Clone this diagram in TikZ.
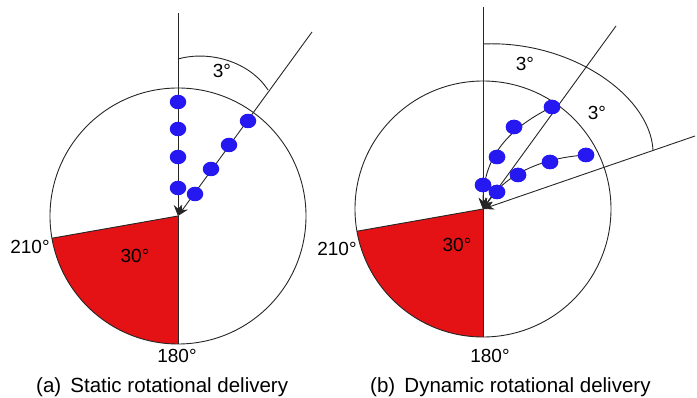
\documentclass[tikz,border=0pt]{standalone}
\usepackage{fontspec}
\setmainfont{Liberation Sans}
\usetikzlibrary{arrows.meta,shapes.geometric}
\definecolor{dotblue}{RGB}{38,24,240}
\definecolor{secred}{RGB}{228,18,20}
\begin{document}
\begin{tikzpicture}[x=1pt,y=-1pt,
 ln/.style={line width=0.9pt, draw=black!85},
 arr/.style={ln, -{Stealth[length=11pt,width=8.5pt]}},
 dot/.style={ellipse, fill=dotblue, minimum width=16.5pt, minimum height=14.5pt, inner sep=0pt},
 lab/.style={font=\fontsize{19}{19}\selectfont, inner sep=0pt},
 captxt/.style={font=\fontsize{20.5}{20.5}\selectfont, inner sep=0pt, anchor=west}]
\useasboundingbox (0,0) rectangle (697,398);
% ---------------- (a) static ----------------
\coordinate (cL) at (178,216);
\fill[secred] (cL) -- ++(90:128) arc[start angle=90,end angle=170,radius=128] -- cycle;
\draw[ln] (cL) circle[radius=128];
\draw[ln] (cL) -- ++(90:128) coordinate (botL);
\draw[ln] (cL) -- ++(170:128) coordinate (leftL);
\coordinate (topL) at (178,13);
\coordinate (diagL) at (312,32);
\draw[arr] (topL) -- (cL);
\draw[arr] (diagL) -- (cL);
\coordinate (aL1) at (178,59);
\coordinate (aL2) at (268,90);
\draw[ln] (aL1) .. controls (210,50) and (250,62) .. (aL2);
\node[dot] (v1) at (178,102) {};
\node[dot] (v2) at (178,129) {};
\node[dot] (v3) at (178,157) {};
\node[dot] (v4) at (178,188) {};
\node[dot] (g1) at (248,121) {};
\node[dot] (g2) at (229,145) {};
\node[dot] (g3) at (211,169) {};
\node[dot] (g4) at (195,194) {};
\node[lab] (l3a) at (222,71) {3°};
\node[lab] (l210a) at (30,247) {210°};
\node[lab] (l30a) at (135,256) {30°};
\node[lab] (l180a) at (177,356) {180°};
\node[captxt] (capa) at (36,387) {(a)\hspace{0.45em}Static rotational delivery};
% ---------------- (b) dynamic ----------------
\coordinate (cR) at (483,209);
\fill[secred] (cR) -- ++(90:128) arc[start angle=90,end angle=170,radius=128] -- cycle;
\draw[ln] (cR) circle[radius=128];
\draw[ln] (cR) -- ++(90:128) coordinate (botR);
\draw[ln] (cR) -- ++(170:128) coordinate (leftR);
\coordinate (topR) at (483,7);
\coordinate (d1R) at (616,26);
\coordinate (d2R) at (695,136);
\draw[arr] (topR) -- (cR);
\draw[arr] (d1R) -- (cR);
\draw[arr] (d2R) -- (cR);
\coordinate (aR1) at (483,44);
\coordinate (aR2) at (653,150);
\draw[ln] (aR1) .. controls (570,40) and (650,95) .. (aR2);
\node[dot] (p1) at (552,107) {};
\node[dot] (p2) at (514,127) {};
\node[dot] (p3) at (497,157) {};
\node[dot] (p4) at (483,185) {};
\node[dot] (q1) at (586,155) {};
\node[dot] (q2) at (550,162) {};
\node[dot] (q3) at (518,175) {};
\node[dot] (q4) at (497,192) {};
\draw[arr] (p1.center) .. controls (505,130) and (483,160) .. (cR);
\draw[arr] (q1.center) .. controls (540,158) and (505,175) .. (cR);
\foreach \n in {p1,p2,p3,p4,q1,q2,q3,q4} \fill[dotblue] (\n.center) ellipse[x radius=8.25, y radius=7.25];
\node[lab] (l3b) at (525,64) {3°};
\node[lab] (l3c) at (597,113) {3°};
\node[lab] (l210b) at (337,249) {210°};
\node[lab] (l30b) at (457,245) {30°};
\node[lab] (l180b) at (490,356) {180°};
\node[captxt] (capb) at (370,387) {(b)\hspace{0.45em}Dynamic rotational delivery};
\end{tikzpicture}
\end{document}
